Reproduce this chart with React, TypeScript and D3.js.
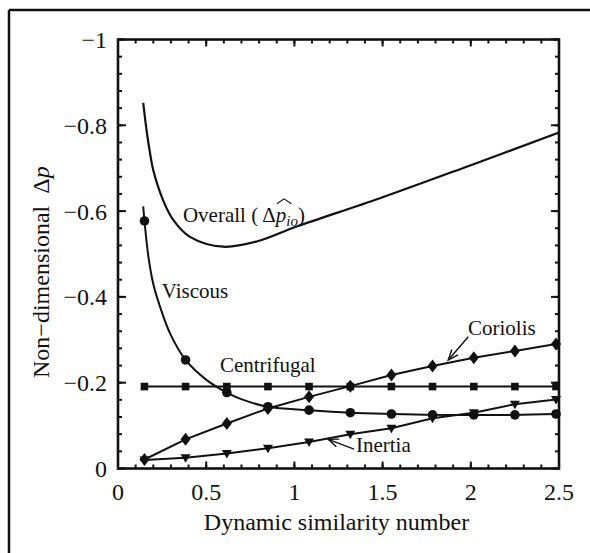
import React, { useLayoutEffect, useRef, useState } from "react";
import * as d3 from "d3";

// ---------- data ----------
const markerX = [0.15, 0.383, 0.617, 0.85, 1.083, 1.317, 1.55, 1.783, 2.017, 2.25, 2.483];
const centrifugal = [-0.191, -0.191, -0.191, -0.191, -0.191, -0.191, -0.191, -0.191, -0.191, -0.191, -0.191];
const coriolis = [-0.021, -0.068, -0.105, -0.14, -0.167, -0.192, -0.218, -0.239, -0.258, -0.274, -0.29];
const inertia = [-0.02, -0.025, -0.035, -0.047, -0.062, -0.08, -0.094, -0.117, -0.13, -0.15, -0.161];
const viscousMarkers = [-0.577, -0.253, -0.177, -0.144, -0.136, -0.13, -0.127, -0.125, -0.125, -0.125, -0.127];

const viscousCurveX = [0.143, 0.15, 0.172, 0.2, 0.24, 0.295, 0.383, 0.503, 0.617, 0.71, 0.85, 1.083, 1.317, 1.55, 1.783, 2.017, 2.25, 2.483];
const viscousCurveY = [-0.611, -0.577, -0.495, -0.43, -0.375, -0.315, -0.253, -0.206, -0.177, -0.16, -0.144, -0.136, -0.13, -0.127, -0.125, -0.125, -0.125, -0.127];

const overallX = [0.143, 0.163, 0.181, 0.2, 0.257, 0.314, 0.408, 0.597, 0.786, 1.013, 1.485, 2.0, 2.5];
const overallY = [-0.852, -0.785, -0.737, -0.695, -0.624, -0.579, -0.54, -0.517, -0.529, -0.564, -0.63, -0.707, -0.783];

const xTicks = [0, 0.5, 1, 1.5, 2, 2.5];
const xTickLabels = ["0", "0.5", "1", "1.5", "2", "2.5"];
const yTicks = [0, -0.2, -0.4, -0.6, -0.8, -1];
const yTickLabels = ["0", "\u22120.2", "\u22120.4", "\u22120.6", "\u22120.8", "\u22121"];

// ---------- layout ----------
const W = 590, H = 553;
const PL = 118, PR = 559, PT = 39.5, PB = 468.5;
const FONT = "Liberation Serif";

const x = d3.scaleLinear().domain([0, 2.5]).range([PL, PR]);
const y = d3.scaleLinear().domain([0, -1]).range([PB, PT]);

const pts = (xs: number[], ys: number[]) => xs.map((v, i) => [v, ys[i]] as [number, number]);
const lineLin = d3.line<[number, number]>().x(d => x(d[0])).y(d => y(d[1]));
const lineSmooth = d3.line<[number, number]>().x(d => x(d[0])).y(d => y(d[1])).curve(d3.curveCatmullRom.alpha(0.5));

function arrow(x0: number, y0: number, x1: number, y1: number) {
  const ax = x(x0), ay = y(y0), bx = x(x1), by = y(y1);
  const ang = Math.atan2(by - ay, bx - ax);
  const L = 11, a = 0.38;
  const p1 = [bx - L * Math.cos(ang - a), by - L * Math.sin(ang - a)];
  const p2 = [bx - L * Math.cos(ang + a), by - L * Math.sin(ang + a)];
  return (
    <g stroke="#111" strokeWidth={1.4} fill="none">
      <line x1={ax} y1={ay} x2={bx} y2={by} />
      <polyline points={`${p1[0]},${p1[1]} ${bx},${by} ${p2[0]},${p2[1]}`} />
    </g>
  );
}

export default function App() {
  const xMinor = d3.range(0, 2.5001, 0.1);
  const yMinor = d3.range(0, -1.0001, -0.04);
  const col = "#111";
  const ox = x(0.368), oy = y(-0.575);

  const ovRef = useRef<SVGTextElement>(null);
  const [hat, setHat] = useState<[number, number] | null>(null);
  useLayoutEffect(() => {
    const measure = () => {
      const el = ovRef.current;
      if (!el) return;
      try {
        const idx = (el.textContent || "").indexOf("p");
        const r = el.getExtentOfChar(idx);
        setHat([r.x + 1, r.x + r.width + 5]);
      } catch (e) { /* ignore */ }
    };
    measure();
    if ((document as any).fonts && (document as any).fonts.ready) {
      (document as any).fonts.ready.then(measure);
    }
  }, []);

  return (
    <svg width={W} height={H} fontFamily={FONT} style={{ position: "absolute", left: 0, top: 0, background: "#fff", fontFamily: '"Liberation Serif"' }}>
      <rect x={0} y={0} width={W} height={H} fill="#fff" />
      <line x1={9} y1={10} x2={W} y2={10} stroke={col} strokeWidth={2.5} />
      <line x1={9} y1={10} x2={9} y2={H} stroke={col} strokeWidth={2.5} />

      <g stroke={col} strokeWidth={2}>
        {xMinor.map((t, i) => (
          <g key={"xm" + i}>
            <line x1={x(t)} x2={x(t)} y1={PB} y2={PB - 4} />
            <line x1={x(t)} x2={x(t)} y1={PT} y2={PT + 4} />
          </g>
        ))}
        {yMinor.map((t, i) => (
          <g key={"ym" + i}>
            <line x1={PL} x2={PL + 4} y1={y(t)} y2={y(t)} />
            <line x1={PR} x2={PR - 4} y1={y(t)} y2={y(t)} />
          </g>
        ))}
        {xTicks.map((t, i) => (
          <g key={"xM" + i}>
            <line x1={x(t)} x2={x(t)} y1={PB} y2={PB - 7} />
            <line x1={x(t)} x2={x(t)} y1={PT} y2={PT + 7} />
          </g>
        ))}
        {yTicks.map((t, i) => (
          <g key={"yM" + i}>
            <line x1={PL} x2={PL + 8} y1={y(t)} y2={y(t)} />
            <line x1={PR} x2={PR - 8} y1={y(t)} y2={y(t)} />
          </g>
        ))}
      </g>

      <rect x={PL} y={PT} width={PR - PL} height={PB - PT} fill="none" stroke={col} strokeWidth={2.6} />

      <g fontSize={24} fill={col}>
        {xTicks.map((t, i) => (
          <text key={"xl" + i} x={x(t)} y={500} textAnchor="middle">{xTickLabels[i]}</text>
        ))}
        {yTicks.map((t, i) => (
          <text key={"yl" + i} x={107} y={y(t)} dy="0.35em" textAnchor="end">{yTickLabels[i]}</text>
        ))}
      </g>

      <text x={(PL + PR) / 2 - 2} y={530} fontSize={24} textAnchor="middle" fill={col}>Dynamic similarity number</text>
      <text transform={`translate(49,378) rotate(-90)`} fontSize={24} fill={col}>
        Non{"\u2212"}dimensional{"\u00a0\u00a0"}Δ<tspan fontStyle="italic">p</tspan>
      </text>

      <g fill="none" stroke={col} strokeWidth={2}>
        <path d={lineSmooth(pts(overallX, overallY)) || ""} strokeWidth={2.2} />
        <path d={lineSmooth(pts(viscousCurveX, viscousCurveY)) || ""} />
        <path d={lineLin(pts(markerX, centrifugal)) || ""} />
        <path d={lineLin(pts(markerX, coriolis)) || ""} />
        <path d={lineLin(pts(markerX, inertia)) || ""} />
      </g>

      <g fill={col}>
        {markerX.map((t, i) => (
          <rect key={"s" + i} x={x(t) - 3.8} y={y(centrifugal[i]) - 3.8} width={7.6} height={7.6} />
        ))}
        {markerX.map((t, i) => (
          <circle key={"c" + i} cx={x(t)} cy={y(viscousMarkers[i])} r={4.8} />
        ))}
        {markerX.map((t, i) => {
          const cx = x(t), cy = y(coriolis[i]);
          return <path key={"d" + i} d={`M${cx},${cy - 6.5}L${cx + 5},${cy}L${cx},${cy + 6.5}L${cx - 5},${cy}Z`} />;
        })}
        {markerX.map((t, i) => {
          const cx = x(t), cy = y(inertia[i]);
          return <path key={"t" + i} d={`M${cx - 5},${cy - 3.5}L${cx + 5},${cy - 3.5}L${cx},${cy + 5}Z`} />;
        })}
      </g>

      <g fontSize={21} fill={col}>
        <text x={x(0.578)} y={y(-0.2256)}>Centrifugal</text>
        <text x={x(0.248)} y={y(-0.397)}>Viscous</text>
        <text x={x(1.984)} y={y(-0.311)}>Coriolis</text>
        <text x={x(1.349)} y={y(-0.039)}>Inertia</text>
        <text ref={ovRef} x={ox} y={oy}>
          Overall ({"\u2009"}Δ<tspan fontStyle="italic">p</tspan>
          <tspan fontStyle="italic" fontSize={15} dy={4}>io</tspan>
          <tspan dy={-4}>)</tspan>
        </text>
      </g>
      {hat && (
        <path d={`M${hat[0]},${oy - 18} L${(hat[0] + hat[1]) / 2},${oy - 23} L${hat[1]},${oy - 18}`} fill="none" stroke={col} strokeWidth={1.1} />
      )}
      {arrow(1.986, -0.307, 1.872, -0.253)}
      {arrow(1.338, -0.045, 1.192, -0.068)}
    </svg>
  );
}
